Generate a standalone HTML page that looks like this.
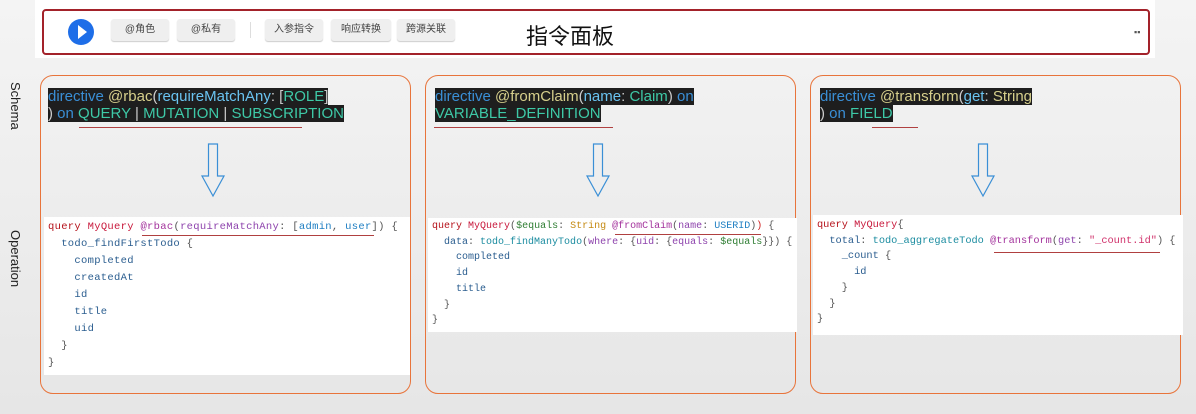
<!DOCTYPE html>
<html><head><meta charset="utf-8"><style>
body{margin:0;width:1196px;height:414px;overflow:hidden;background:linear-gradient(#f4f4f4,#e6e6e6);font-family:"Liberation Sans",sans-serif;position:relative}
.abs{position:absolute}
.top{left:35px;top:0;width:1120px;height:58px;background:#fff}
.bar{left:42px;top:9px;width:1104px;height:42px;border:2px solid #a3222a;border-radius:4px;background:#fff}
.btn{position:absolute;top:19px;height:22px;background:#efefef;border-radius:3px;font-family:"Liberation Sans","Noto Sans CJK SC",sans-serif;font-size:10px;color:#444;text-align:center;line-height:22px;box-shadow:0 1px 1px #ccc}
.panel{top:75px;width:371px;height:319px;border:1.5px solid #e8743b;border-radius:13px;box-sizing:border-box}
.sch{font-size:15px;line-height:17px;white-space:pre}
.sch span.bg{background:#1e1e1e}
.ul{height:1px;background:#b04040}
.code{background:#fff;font-family:"Liberation Mono",monospace;font-size:10px;line-height:15.7px;white-space:pre;padding:1px 4px;box-sizing:border-box;color:#2a5d8f;overflow:hidden}
.k{color:#b5121b}.n{color:#c8193c}.d{color:#a3329c}.a{color:#8e44ad}.v{color:#1d7ec2}.p{color:#555}.s{color:#c58a12}.g{color:#2e7d32}.str{color:#d0306a}
.lbl{font-size:13px;color:#222;transform:rotate(90deg);transform-origin:left top;white-space:nowrap}
</style></head><body>
<div class="abs top"></div>
<div class="abs bar"></div>
<div class="abs" style="left:68px;top:19px;width:26px;height:26px;border-radius:50%;background:#1e6ee8"></div>
<div class="abs" style="left:78px;top:25px;width:0;height:0;border-left:9px solid #fff;border-top:7px solid transparent;border-bottom:7px solid transparent"></div>
<div class="btn" style="left:111px;width:58px">@角色</div>
<div class="btn" style="left:177px;width:58px">@私有</div>
<div class="abs" style="left:250px;top:22px;width:1px;height:16px;background:#ddd"></div>
<div class="btn" style="left:265px;width:58px">入参指令</div>
<div class="btn" style="left:331px;width:60px">响应转换</div>
<div class="btn" style="left:397px;width:58px">跨源关联</div>
<div class="abs" style="left:526px;top:19px;font-size:22px;font-family:'Liberation Sans','Noto Sans CJK SC',sans-serif;color:#111">指令面板</div>
<div class="abs" style="left:1134px;top:27px;font-size:9px;color:#555">▪▪</div>
<div class="abs lbl" style="left:23px;top:82px">Schema</div>
<div class="abs lbl" style="left:23px;top:230px">Operation</div>

<div class="abs panel" style="left:40px"></div>
<div class="abs panel" style="left:425px"></div>
<div class="abs panel" style="left:810px"></div>

<div class="abs sch" style="left:48px;top:88px"><span class="bg"><span style="color:#3a8fd6">directive</span> <span style="color:#d6cf8c">@rbac</span><span style="color:#ccc">(</span><span style="color:#6ac3f0">requireMatchAny</span><span style="color:#ccc">: [</span><span style="color:#3ec9a7">ROLE</span><span style="color:#ccc">]</span></span>
<span class="bg"><span style="color:#ccc">)</span> <span style="color:#3a8fd6">on</span> <span style="color:#3ec9a7">QUERY</span> <span style="color:#ccc">|</span> <span style="color:#3ec9a7">MUTATION</span> <span style="color:#ccc">|</span> <span style="color:#3ec9a7">SUBSCRIPTION</span></span></div>
<div class="abs ul" style="left:79px;top:127px;width:223px"></div>

<div class="abs sch" style="left:435px;top:88px"><span class="bg"><span style="color:#3a8fd6">directive</span> <span style="color:#d6cf8c">@fromClaim</span><span style="color:#ccc">(</span><span style="color:#6ac3f0">name</span><span style="color:#ccc">:</span> <span style="color:#3ec9a7">Claim</span><span style="color:#ccc">)</span> <span style="color:#3a8fd6">on</span></span>
<span class="bg"><span style="color:#3ec9a7">VARIABLE_DEFINITION</span></span></div>
<div class="abs ul" style="left:434px;top:127px;width:179px"></div>

<div class="abs sch" style="left:820px;top:88px"><span class="bg"><span style="color:#3a8fd6">directive</span> <span style="color:#d6cf8c">@transform</span><span style="color:#ccc">(</span><span style="color:#6ac3f0">get</span><span style="color:#ccc">:</span> <span style="color:#d6cf8c">String</span></span>
<span class="bg"><span style="color:#ccc">)</span> <span style="color:#3a8fd6">on</span> <span style="color:#3ec9a7">FIELD</span></span></div>
<div class="abs ul" style="left:872px;top:127px;width:46px"></div>

<svg class="abs" style="left:0;top:0" width="1196" height="414">
<g fill="none" stroke="#3a8fd6" stroke-width="1.2">
<path d="M208.5 144 V176 H202 L213 196 L224 176 H217.5 V144 Z"/>
<path d="M593.5 144 V176 H587 L598 196 L609 176 H602.5 V144 Z"/>
<path d="M978.5 144 V176 H972 L983 196 L994 176 H987.5 V144 Z"/>
</g></svg>

<div class="abs code" style="left:44px;top:217px;width:366px;height:158px;font-size:10.5px;letter-spacing:0.3px;padding-top:2px;line-height:17px"><span class="k">query</span> <span class="n">MyQuery</span> <span class="d">@rbac</span><span class="p">(</span><span class="a">requireMatchAny</span><span class="p">: [</span><span class="v">admin</span><span class="p">,</span> <span class="v">user</span><span class="p">]) {</span>
  todo_findFirstTodo <span class="p">{</span>
    completed
    createdAt
    id
    title
    uid
  <span class="p">}</span>
<span class="p">}</span></div>
<div class="abs ul" style="left:142px;top:235px;width:232px"></div>

<div class="abs code" style="left:428px;top:218px;width:369px;height:114px"><span class="k">query</span> <span class="n">MyQuery</span><span class="p">(</span><span class="g">$equals</span><span class="p">:</span> <span class="s">String</span> <span class="d">@fromClaim</span><span class="p">(</span><span class="a">name</span><span class="p">:</span> <span class="v">USERID</span><span class="p">)</span><span style="color:#d02020">)</span> <span class="p">{</span>
  data<span class="p">:</span> <span style="color:#1b8ca0">todo_findManyTodo</span><span class="p">(</span><span class="a">where</span><span class="p">: {</span><span class="a">uid</span><span class="p">: {</span><span class="a">equals</span><span class="p">:</span> <span class="g">$equals</span><span class="p">}}) {</span>
    completed
    id
    title
  <span class="p">}</span>
<span class="p">}</span></div>
<div class="abs ul" style="left:615px;top:234px;width:146px"></div>

<div class="abs code" style="left:813px;top:215px;width:370px;height:120px;font-size:10.3px;padding-top:3px"><span class="k">query</span> <span class="n">MyQuery</span><span class="p">{</span>
  total<span class="p">:</span> <span style="color:#1b8ca0">todo_aggregateTodo</span> <span class="d">@transform</span><span class="p">(</span><span class="a">get</span><span class="p">:</span> <span class="str">"_count.id"</span><span class="p">) {</span>
    _count <span class="p">{</span>
      id
    <span class="p">}</span>
  <span class="p">}</span>
<span class="p">}</span></div>
<div class="abs ul" style="left:994px;top:252px;width:166px"></div>
</body></html>
